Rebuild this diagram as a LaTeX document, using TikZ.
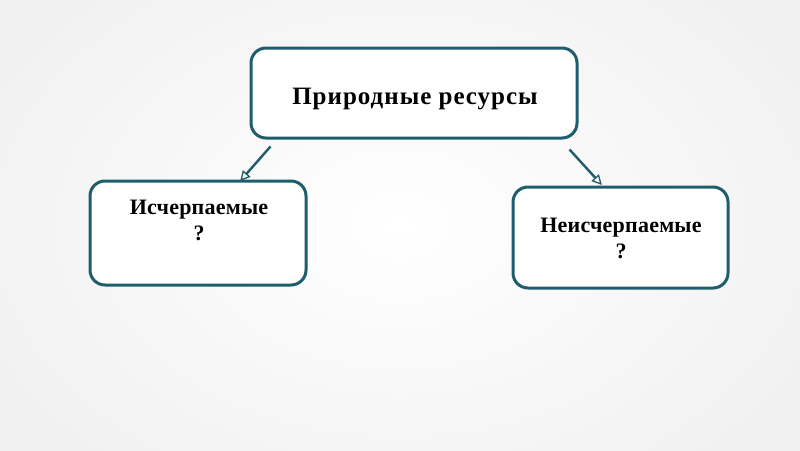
\documentclass[tikz,border=0pt]{standalone}
\usepackage{fontspec}
\setmainfont{Liberation Serif}
\newfontfamily\spacedA[LetterSpace=4]{Liberation Serif}
\newfontfamily\spacedB[LetterSpace=1]{Liberation Serif}
\usetikzlibrary{arrows.meta}
\definecolor{teal1}{HTML}{1E5D6B}
\tikzset{
  box/.style={draw=teal1, line width=3pt, rounded corners=15pt, fill=white, inner sep=0pt},
  lbl/.style={align=center, inner sep=0pt, text=black},
  arr/.style={draw=teal1, line width=2.4pt, -{Triangle[open, length=10pt, width=10pt, line width=1.3pt]}, shorten >=-2pt}
}
\begin{document}
\begin{tikzpicture}[x=1pt,y=-1pt]
\useasboundingbox (0,0) rectangle (800,450);
\shade[inner color=white, outer color=black!6] (-100,-120) rectangle (900,570);
\node[box, minimum width=326pt, minimum height=90pt] (top) at (414,93) {};
\node[lbl, font=\spacedA\fontsize{25}{28}\selectfont\bfseries, anchor=base] (toptxt) at (415,104) {Природные ресурсы};
\node[box, minimum width=216pt, minimum height=104pt] (left) at (198,233) {};
\node[lbl, font=\spacedB\fontsize{22}{26}\selectfont\bfseries, anchor=north] (lefttxt) at (199,199.5) {Исчерпаемые\\?};
\node[box, minimum width=215pt, minimum height=101pt] (right) at (620.5,237.5) {};
\node[lbl, font=\spacedB\fontsize{22}{26}\selectfont\bfseries, anchor=north] (righttxt) at (621,217.5) {Неисчерпаемые\\?};
\coordinate (s1) at ([xshift=21pt,yshift=-7pt]top.south west);
\coordinate (s2) at ([xshift=-9pt,yshift=-10pt]top.south east);
\draw[arr] (s1) -- ([xshift=153pt]left.north west);
\draw[arr] (s2) -- ([xshift=89pt,yshift=2pt]right.north west);
\end{tikzpicture}
\end{document}
